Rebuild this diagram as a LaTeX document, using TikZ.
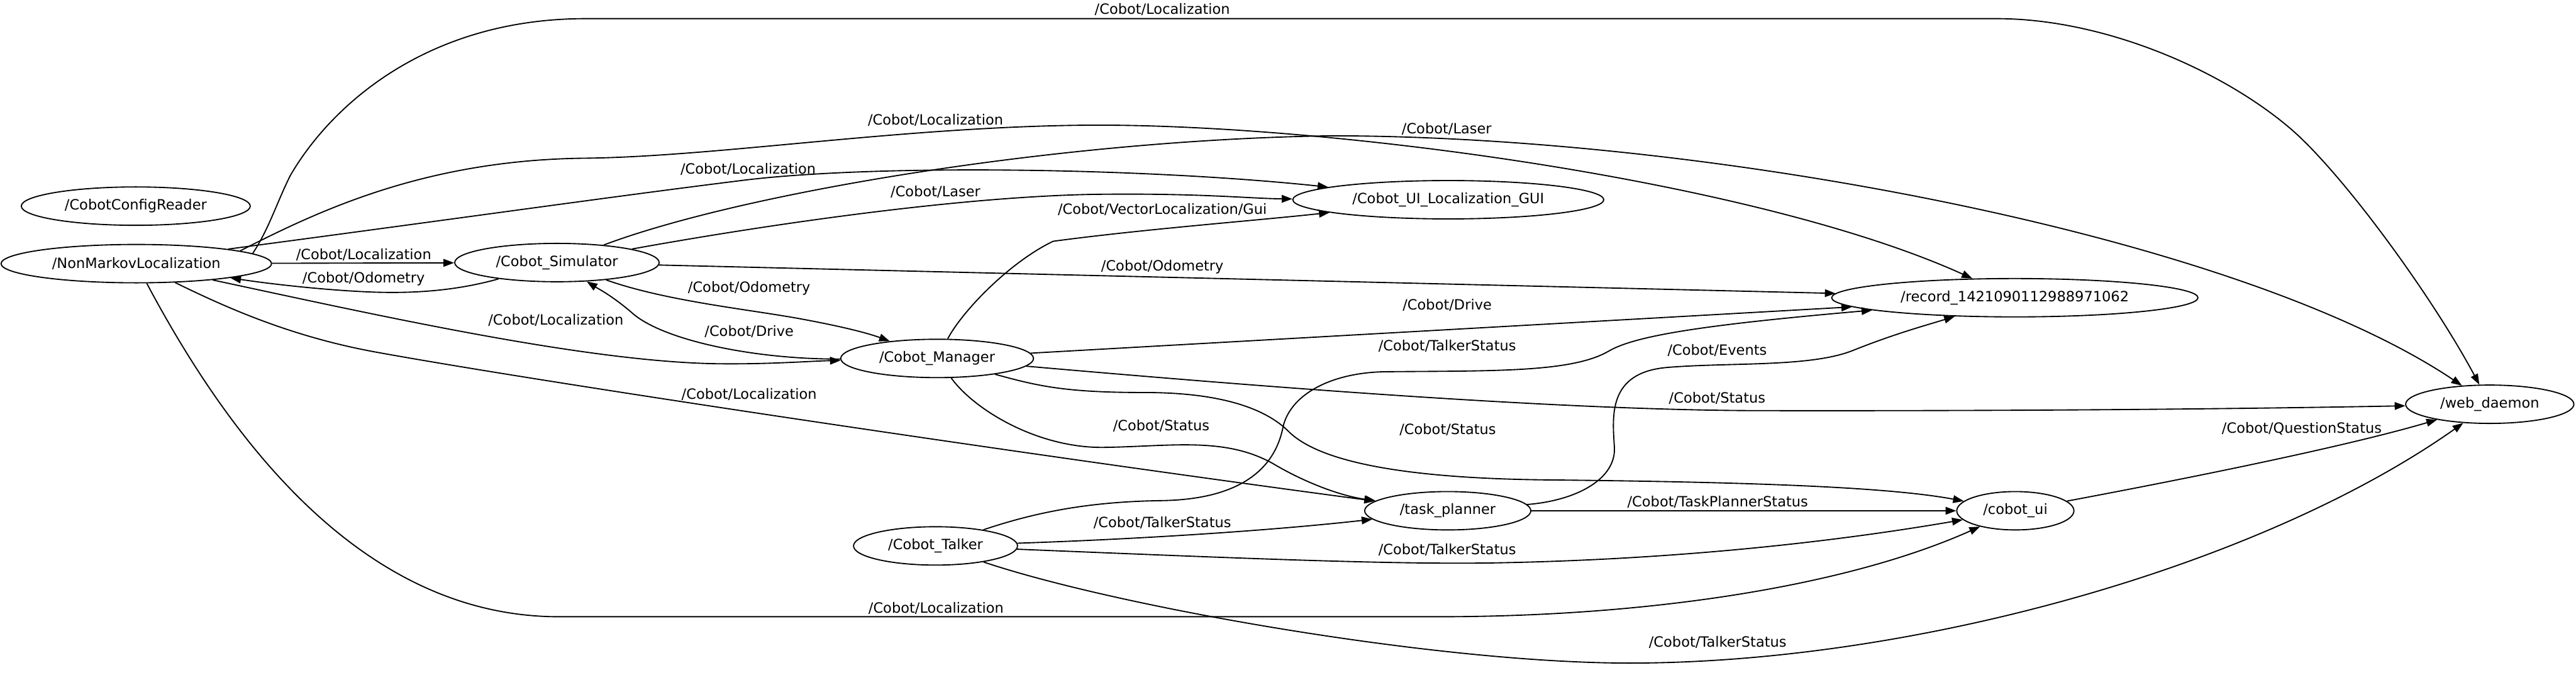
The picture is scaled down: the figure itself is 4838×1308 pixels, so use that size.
\documentclass[tikz,border=0pt]{standalone}
\usepackage{fontspec}
\setmainfont{DejaVu Sans}
\usetikzlibrary{arrows.meta,shapes.geometric}
\begin{document}
\begin{tikzpicture}[x=0.25pt,y=-0.25pt,
  every node/.style={font=\fontsize{6.65}{8}\selectfont},
  nd/.style={draw,ellipse,line width=0.55pt,inner sep=0pt,minimum height=18pt},
  edge/.style={draw,line width=0.55pt,-{Triangle[length=5pt,width=3.6pt]}},
  lbl/.style={inner sep=0pt}]
\useasboundingbox (0,0) rectangle (4838,1308);
% nodes
\node[nd,minimum width=107.5pt] (ccr) at (255,387) {/CobotConfigReader};
\node[nd,minimum width=127pt] (nm) at (256,495) {/NonMarkovLocalization};
\node[nd,minimum width=96pt] (sim) at (1046,493) {/Cobot\_Simulator};
\node[nd,minimum width=146pt] (gui) at (2720,375) {/Cobot\_UI\_Localization\_GUI};
\node[nd,minimum width=90.5pt] (mgr) at (1760,673) {/Cobot\_Manager};
\node[nd,minimum width=172pt] (rec) at (3784,559) {/record\_1421090112988971062};
\node[nd,minimum width=79pt] (web) at (4676,759) {/web\_daemon};
\node[nd,minimum width=78pt] (tp) at (2719,959) {/task\_planner};
\node[nd,minimum width=55pt] (ui) at (3785,959) {/cobot\_ui};
\node[nd,minimum width=77pt] (tk) at (1757,1025) {/Cobot\_Talker};
% edges
\path[edge] (nm) -- (sim);
\path[edge] (sim) .. controls (860,545) and (780,552) .. (690,548) .. controls (600,544) and (500,532) .. (nm);
\path[edge] (nm.9) .. controls (900,405) and (1150,369) .. (1400,338) .. controls (1650,308) and (2150,315) .. (gui);
\path[edge] (nm.5) .. controls (505,430) and (520,380) .. (545,330) .. controls (620,200) and (800,35) .. (1100,35) -- (3750,35) .. controls (3950,35) and (4170,130) .. (4300,240) .. controls (4400,325) and (4570,560) .. (web);
\path[edge] (nm.7) .. controls (600,395) and (800,300) .. (1100,297) .. controls (1350,294) and (1700,237) .. (2050,235) .. controls (2500,233) and (3300,340) .. (rec);
\path[edge] (sim) .. controls (1400,360) and (2000,262) .. (2500,255) .. controls (3200,255) and (4200,440) .. (web);
\path[edge] (sim) .. controls (1450,420) and (1800,370) .. (2050,365) .. controls (2250,362) and (2350,373) .. (gui);
\path[edge] (mgr) .. controls (1810,580) and (1900,490) .. (1978,453) .. controls (2150,430) and (2350,415) .. (gui);
\path[edge] (sim) -- (rec);
\path[edge] (sim) .. controls (1250,565) and (1400,580) .. (1500,598) .. controls (1560,609) and (1620,622) .. (mgr);
\path[edge] (mgr) .. controls (1420,675) and (1250,640) .. (1190,590) .. controls (1150,555) and (1120,540) .. (sim);
\path[edge] (nm) .. controls (700,590) and (1100,680) .. (1350,683) .. controls (1450,684) and (1520,678) .. (mgr);
\path[edge] (mgr) -- (rec);
\path[edge] (mgr) .. controls (2300,720) and (2900,770) .. (3300,771) .. controls (3900,772) and (4300,766) .. (web);
\path[edge] (mgr) .. controls (1950,725) and (2000,737) .. (2150,737) .. controls (2300,737) and (2380,770) .. (2420,810) .. controls (2480,870) and (2650,898) .. (2900,901) .. controls (3300,905) and (3550,915) .. (ui);
\path[edge] (mgr) .. controls (1830,770) and (1950,842) .. (2074,840) .. controls (2200,838) and (2300,820) .. (2390,870) .. controls (2440,900) and (2510,930) .. (tp);
\path[edge] (nm) .. controls (420,575) and (540,630) .. (700,660) .. controls (1000,715) and (1900,850) .. (tp);
\path[edge] (nm) .. controls (450,860) and (700,1158) .. (1050,1158) -- (2700,1158) .. controls (3100,1158) and (3470,1100) .. (ui);
\path[edge] (tk) .. controls (1950,960) and (2050,942) .. (2180,940) .. controls (2330,938) and (2395,880) .. (2410,800) .. controls (2425,740) and (2500,700) .. (2600,698) .. controls (2800,696) and (2950,700) .. (3020,660) .. controls (3070,630) and (3200,610) .. (rec);
\path[edge] (tp) .. controls (2960,940) and (3035,900) .. (3032,840) .. controls (3028,780) and (3020,700) .. (3130,690) .. controls (3250,680) and (3400,690) .. (3480,658) .. controls (3560,626) and (3620,610) .. (rec);
\path[edge] (tp) -- (ui);
\path[edge] (tk) .. controls (2150,1012) and (2400,995) .. (tp);
\path[edge] (tk) .. controls (2300,1047) and (2600,1060) .. (2800,1057) .. controls (3100,1052) and (3400,1025) .. (ui);
\path[edge] (tk) .. controls (2100,1140) and (2700,1245) .. (3060,1245) .. controls (3600,1245) and (4250,1060) .. (web);
\path[edge] (ui) .. controls (4100,900) and (4400,840) .. (web);
% labels
\node[lbl] (l1) at (683,478) {/Cobot/Localization};
\node[lbl] (l2) at (683,523) {/Cobot/Odometry};
\node[lbl] (l3) at (1405,318) {/Cobot/Localization};
\node[lbl] (l4) at (2183,18) {/Cobot/Localization};
\node[lbl] (l5) at (1757,226) {/Cobot/Localization};
\node[lbl] (l6) at (2717,242) {/Cobot/Laser};
\node[lbl] (l7) at (1757,360) {/Cobot/Laser};
\node[lbl] (l8) at (2183,393) {/Cobot/VectorLocalization/Gui};
\node[lbl] (l9) at (2183,501) {/Cobot/Odometry};
\node[lbl] (l10) at (1407,541) {/Cobot/Odometry};
\node[lbl] (l11) at (1407,622) {/Cobot/Drive};
\node[lbl] (l12) at (1044,601) {/Cobot/Localization};
\node[lbl] (l13) at (2718,573) {/Cobot/Drive};
\node[lbl] (l14) at (3225,748) {/Cobot/Status};
\node[lbl] (l15) at (2719,807) {/Cobot/Status};
\node[lbl] (l16) at (2181,800) {/Cobot/Status};
\node[lbl] (l17) at (1407,741) {/Cobot/Localization};
\node[lbl] (l18) at (1758,1142) {/Cobot/Localization};
\node[lbl] (l19) at (2718,650) {/Cobot/TalkerStatus};
\node[lbl] (l20) at (3225,658) {/Cobot/Events};
\node[lbl] (l21) at (3226,942) {/Cobot/TaskPlannerStatus};
\node[lbl] (l22) at (2183,982) {/Cobot/TalkerStatus};
\node[lbl] (l23) at (2718,1032) {/Cobot/TalkerStatus};
\node[lbl] (l24) at (3226,1206) {/Cobot/TalkerStatus};
\node[lbl] (l25) at (4323,805) {/Cobot/QuestionStatus};
\end{tikzpicture}
\end{document}
